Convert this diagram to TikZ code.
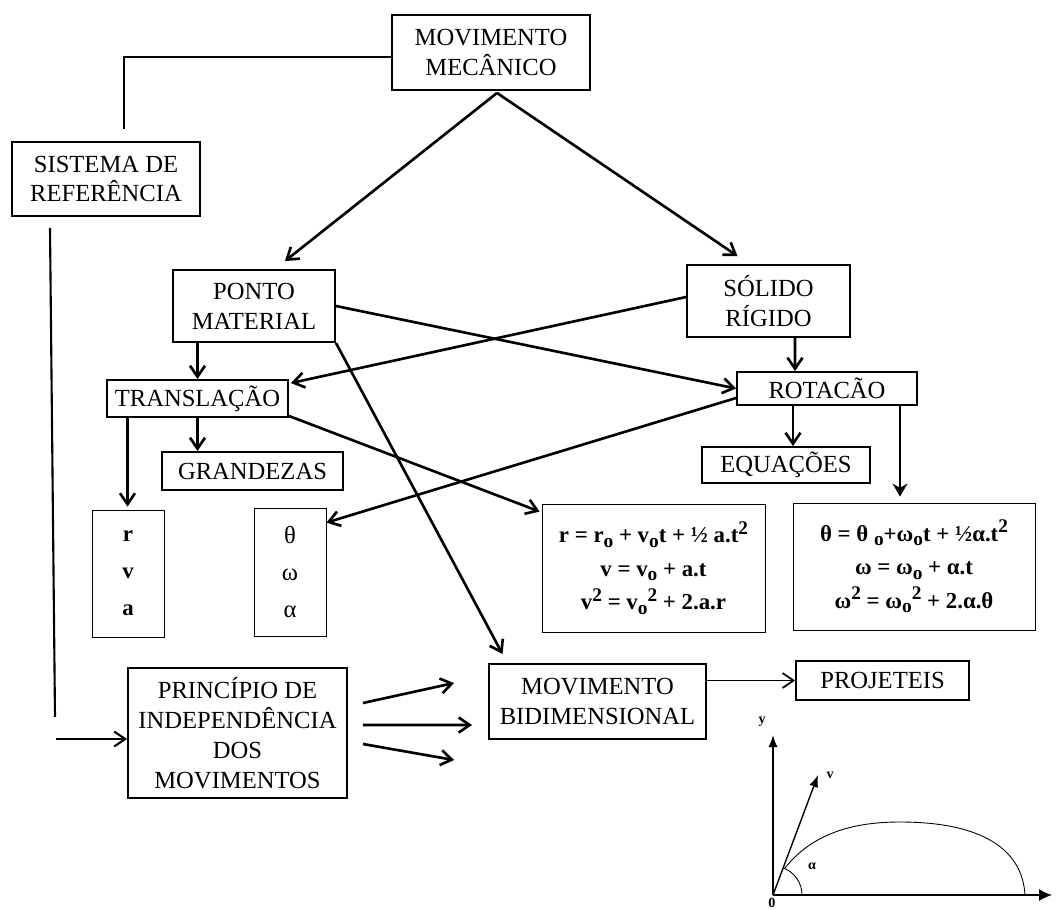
\documentclass[tikz,border=0pt]{standalone}
\usepackage{fontspec}
\setmainfont{Liberation Serif}
\usetikzlibrary{arrows.meta,calc}
\newcommand\lw[1]{\raisebox{-0.45ex}{\fontsize{11}{11}\selectfont #1}}
\newcommand\up[1]{\raisebox{0.8ex}{\fontsize{11}{11}\selectfont #1}}
\begin{document}
\begin{tikzpicture}[x=0.02cm,y=-0.02cm,
 box/.style={draw, line width=1.1pt, align=center, inner sep=0pt, font=\fontsize{14}{17}\selectfont},
 tbox/.style={draw, line width=0.5pt, align=center, inner sep=0pt},
 arr/.style={line width=1.5pt, -{Straight Barb[length=2.2mm,width=3mm]}},
 ln/.style={line width=0.8pt},
 lab/.style={font=\fontsize{8}{8}\selectfont\bfseries, inner sep=0pt},
 ]
\useasboundingbox (0,0) rectangle (1057,909);

% boxes
\node[box, minimum width=3.96cm, minimum height=1.5cm] (mm) at (491,52.5) {MOVIMENTO\\MECÂNICO};
\node[box, minimum width=3.76cm, minimum height=1.48cm] (sr) at (106,179) {SISTEMA DE\\REFERÊNCIA};
\node[box, minimum width=3.24cm, minimum height=1.44cm] (pm) at (254,306) {PONTO\\MATERIAL};
\node[box, minimum width=3.26cm, minimum height=1.44cm] (sol) at (768.5,301) {SÓLIDO\\RÍGIDO};
\node[box, minimum width=3.62cm, minimum height=0.74cm] (tr) at (197.5,398.5) {TRANSLAÇÃO};
\node[box, minimum width=3.6cm, minimum height=0.66cm] (rot) at (827,388.5) {ROTACÃO};
\node[box, minimum width=3.62cm, minimum height=0.76cm] (gr) at (252.5,471) {GRANDEZAS};
\node[box, minimum width=3.36cm, minimum height=0.72cm] (eq) at (786,465) {EQUAÇÕES};
\node[tbox, minimum width=1.44cm, minimum height=2.54cm, font=\fontsize{13}{21}\selectfont\bfseries] (rva) at (128,573.5) {r\\v\\a};
\node[tbox, minimum width=1.44cm, minimum height=2.56cm, font=\fontsize{14}{21}\selectfont] (twa) at (290,572) {θ\\ω\\α};
\node[tbox, minimum width=4.46cm, minimum height=2.56cm, font=\fontsize{13}{19}\selectfont\bfseries] (e1) at (653.5,568)
 {r = r\lw{o} + v\lw{o}t + ½ a.t\up{2}\\ v = v\lw{o} + a.t\\ v\up{2} = v\lw{o}\up{2} + 2.a.r};
\node[tbox, minimum width=4.84cm, minimum height=2.54cm, font=\fontsize{13}{19}\selectfont\bfseries] (e2) at (914,566.5)
 {θ = θ \lw{o}+ω\lw{o}t + ½α.t\up{2}\\ ω = ω\lw{o} + α.t\\ ω\up{2} = ω\lw{o}\up{2} + 2.α.θ};
\node[box, minimum width=4.38cm, minimum height=2.6cm] (pr) at (237.5,733) {PRINCÍPIO DE\\INDEPENDÊNCIA\\DOS\\MOVIMENTOS};
\node[box, minimum width=4.34cm, minimum height=1.5cm] (mb) at (597.5,701.5) {MOVIMENTO\\BIDIMENSIONAL};
\node[box, minimum width=3.46cm, minimum height=0.78cm] (pj) at (882.5,680.5) {PROJETEIS};

% connectors
\draw[ln] ($(mm.west)+(0,4.5)$) -| ($(sr.north)+(18,-12)$);
\draw[line width=1.2pt] ($(sr.south)+(-56,11)$) -- ($(sr.south)+(-51,500)$);
\coordinate (lb) at (56,739);
\draw[arr, line width=1.2pt] (lb) -- (lb -| pr.west);

\draw[arr] ($(mm.south)+(6,2)$) -- ($(pm.north)+(31,-8)$);
\draw[arr] ($(mm.south)+(6,2)$) -- ($(sol.north)+(-31,-8)$);
\draw[arr] (pm.east) -- (rot.west);
\draw[arr] ($(sol.west)+(0,-4)$) -- ($(tr.north east)+(2,4)$);
\draw[arr] (pm.south east) -- ($(mb.north)+(-95,-9)$);
\draw[arr] (pm.south -| tr.north) -- (tr.north);
\draw[arr] ($(sol.south)+(26.5,0)$) -- ($(rot.north)+(-32,0)$);
\draw[arr] ($(rot.south)+(-34,0)$) -- ($(eq.north)+(7,0)$);
\draw[line width=1pt, -{Stealth[length=2.6mm,width=3mm]}] ($(rot.south)+(73,0)$) -- ($(e2.north)+(-14,-6)$);
\draw[arr] ($(rot.west)+(0,9.5)$) -- ($(twa.north east)+(0,15)$);
\draw[arr] ($(tr.south east)+(0,-2)$) -- ($(e1.north west)+(-2,8)$);
\draw[arr] ($(tr.south)+(-70,0)$) -- ($(rva.north)+(-0.5,-3)$);
\draw[arr] (tr.south) -- (tr.south |- gr.north);
\draw[arr] ($(pr.east)+(15,-30)$) -- ($(mb.west)+(-34,-18.5)$);
\draw[arr] ($(pr.east)+(15,-8)$) -- ($(mb.west)+(-16,23.5)$);
\draw[arr] ($(pr.east)+(15,11)$) -- ($(mb.west)+(-34,58.5)$);
\draw[line width=1pt, -{Straight Barb[length=2.2mm,width=3mm]}] (mb.east |- pj.west) -- (pj.west);

% projectile graph
\coordinate (O) at (773,895);
\draw[line width=0.8pt, -{Latex[length=2.4mm,width=1.8mm]}] (O) -- (773,735);
\draw[line width=0.8pt, -{Latex[length=2.6mm,width=2.4mm]}] (O) -- (1052,895);
\draw[line width=0.8pt, -{Latex[length=2.4mm,width=1.8mm]}] (O) -- (818,775);
\draw[line width=0.5pt] (785,868) .. controls (815,830) and (860,822) .. (900,822) .. controls (975,822) and (1022,845) .. (1025,895);
\draw[line width=0.5pt] (802,895) arc[start angle=0, end angle=69, radius=0.58cm];
\node[lab] (ly) at (762,722) {y};
\node[lab] (lv) at (830,775) {v};
\node[lab] (la) at (812,866) {α};
\node[lab] (lo) at (772,903) {0};
\end{tikzpicture}
\end{document}
